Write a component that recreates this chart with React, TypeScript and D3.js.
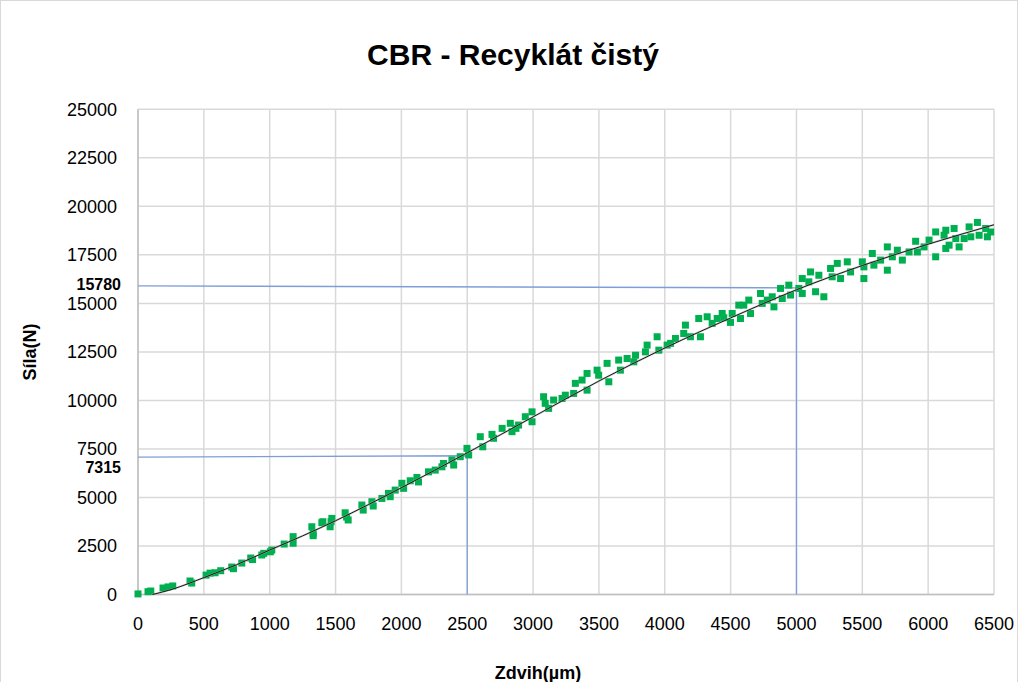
import React from "react";
import * as d3 from "d3";

const title = "CBR - Recyklát čistý";
const xLabel = "Zdvih(µm)";
const yLabel = "Síla(N)";
const xTicks = [0, 500, 1000, 1500, 2000, 2500, 3000, 3500, 4000, 4500, 5000, 5500, 6000, 6500];
const yTicks = [0, 2500, 5000, 7500, 10000, 12500, 15000, 17500, 20000, 22500, 25000];

// measured points [displacement µm, force N]
const measured: [number, number][] = [
  [0, 30], [76, 145], [97, 180], [190, 335], [228, 390], [264, 440], [395, 695], [408, 590],
  [517, 1000], [547, 1100], [585, 1120], [628, 1225], [712, 1415], [725, 1330], [788, 1620],
  [856, 1880], [870, 1800], [940, 2035], [955, 2120], [1005, 2200], [1016, 2290], [1110, 2600],
  [1178, 2980], [1178, 2640], [1320, 3490], [1330, 3150], [1330, 3030], [1396, 3700], [1404, 3750],
  [1459, 3490], [1466, 3750], [1472, 3920], [1573, 4210], [1584, 3990], [1596, 3840],
  [1700, 4610], [1710, 4350], [1776, 4780], [1786, 4560], [1852, 4950], [1902, 5210], [1915, 5040],
  [1953, 5380], [2004, 5730], [2017, 5470], [2067, 5860], [2118, 6030], [2130, 5800], [2206, 6320],
  [2257, 6410], [2308, 6580], [2320, 6750], [2384, 6930], [2397, 6670], [2447, 7100], [2498, 7530],
  [2511, 7190], [2599, 8130], [2618, 7610], [2688, 8250], [2700, 8050], [2765, 8560], [2827, 8820],
  [2840, 8390], [2870, 8560], [2890, 8730], [2941, 9160], [2992, 9410], [2992, 8900], [3080, 10190],
  [3092, 9850], [3118, 9590], [3156, 10020], [3220, 10100], [3245, 10270], [3308, 10360],
  [3321, 10880], [3372, 11050], [3410, 11390], [3410, 10530], [3486, 11560], [3498, 11300],
  [3562, 11910], [3575, 10960], [3650, 12080], [3663, 11560], [3714, 12160], [3765, 11990],
  [3778, 12330], [3853, 12500], [3866, 12850], [3942, 13280], [3955, 12590], [4018, 12850],
  [4044, 12940], [4081, 13190], [4144, 13450], [4157, 13880], [4195, 13280], [4258, 14220],
  [4271, 13280], [4322, 14310], [4360, 13970], [4398, 14220], [4436, 14480], [4448, 14260],
  [4499, 14020], [4512, 14480], [4562, 14910], [4575, 14220], [4600, 14910], [4638, 15170],
  [4651, 14480], [4727, 15510], [4740, 15000], [4778, 15170], [4816, 15340], [4829, 14820],
  [4879, 15770], [4892, 15250], [4942, 15940], [4955, 15430], [5018, 15770], [5044, 16280],
  [5044, 15510], [5094, 16110], [5107, 16620], [5145, 15600], [5170, 16450], [5208, 15340],
  [5259, 16800], [5271, 16370], [5310, 17060], [5335, 16280], [5386, 17140], [5411, 16620],
  [5500, 17140], [5512, 16280], [5512, 16880], [5576, 17570], [5588, 16970], [5639, 17230],
  [5690, 17910], [5690, 16710], [5728, 17400], [5766, 17740], [5804, 17230], [5855, 17650],
  [5905, 18200], [5918, 17650], [5969, 17910], [6007, 18260], [6057, 18680], [6057, 17400],
  [6121, 18510], [6134, 18770], [6134, 17830], [6159, 18000], [6197, 18860], [6210, 18340],
  [6235, 17910], [6273, 18340], [6311, 18940], [6324, 18430], [6374, 19170], [6387, 18510],
  [6437, 18860], [6450, 18430], [6475, 18680],
];

// trendline
const trend: [number, number][] = [
  [110, 0], [250, 250], [500, 870], [750, 1540], [1000, 2290], [1250, 3020], [1500, 3800],
  [2000, 5500], [2500, 7300], [3000, 9150], [3500, 11000], [4000, 12700], [4500, 14250],
  [5000, 15700], [5500, 16950], [6000, 18050], [6500, 19050],
];

// reference lines
const refA: [number, number][] = [[0, 15900], [5000, 15800], [5000, 0]];
const refB: [number, number][] = [[0, 7080], [2500, 7150], [2500, 0]];
const refLabels = [
  { value: "15780", y: 15900 },
  { value: "7315", y: 6470 },
];

export default function App() {
  const W = 1019, H = 682;
  const x = d3.scaleLinear().domain([0, 6500]).range([138, 994]);
  const y = d3.scaleLinear().domain([0, 25000]).range([594.5, 109.3]);
  const line = d3.line<[number, number]>().x(d => x(d[0])).y(d => y(d[1]));
  const trendLine = d3.line<[number, number]>().x(d => x(d[0])).y(d => y(d[1])).curve(d3.curveMonotoneX);
  const font = "'Liberation Sans', Arial, sans-serif";
  const ms = 7;
  return (
    <svg width={W} height={H} style={{ position: "absolute", left: 0, top: 0, background: "#fff" }} fontFamily={font}>
      <rect x={0.5} y={0.5} width={1017} height={720} fill="#fff" stroke="#d9d9d9" />
      <text x={513} y={65} textAnchor="middle" fontSize={30} fontWeight="bold" fill="#000">{title}</text>
      {xTicks.map(t => (
        <line key={"gx" + t} x1={x(t)} x2={x(t)} y1={y(25000)} y2={y(0)} stroke="#d9d9d9" strokeWidth={1.5} />
      ))}
      {yTicks.map(t => (
        <line key={"gy" + t} x1={x(0)} x2={x(6500)} y1={y(t)} y2={y(t)} stroke="#d9d9d9" strokeWidth={1.5} />
      ))}
      <line x1={x(0)} x2={x(0)} y1={y(25000)} y2={y(0)} stroke="#bfbfbf" strokeWidth={1.5} />
      <line x1={x(0)} x2={x(6500)} y1={y(0)} y2={y(0)} stroke="#bfbfbf" strokeWidth={1.5} />
      {xTicks.map(t => (
        <text key={"tx" + t} x={x(t)} y={630} textAnchor="middle" fontSize={18} fill="#000">{t}</text>
      ))}
      {yTicks.map(t => (
        <text key={"ty" + t} x={117} y={y(t) + 6.3} textAnchor="end" fontSize={18} fill="#000">{t}</text>
      ))}
      {refLabels.map(r => (
        <text key={r.value} x={121} y={y(r.y) + 4.5} textAnchor="end" fontSize={16} fontWeight="bold" fill="#000">{r.value}</text>
      ))}
      <path d={line(refA) || ""} fill="none" stroke="#7f9ed8" strokeWidth={1.3} />
      <path d={line(refB) || ""} fill="none" stroke="#7f9ed8" strokeWidth={1.3} />
      {measured.map((d, i) => (
        <rect key={i} x={x(d[0]) - ms / 2} y={y(d[1]) - ms / 2} width={ms} height={ms} fill="#00b050" />
      ))}
      <path d={trendLine(trend) || ""} fill="none" stroke="#a6a6a6" strokeWidth={2} opacity={0.6} />
      <path d={trendLine(trend) || ""} fill="none" stroke="#1a1a1a" strokeWidth={1} />
      <text x={538} y={679} textAnchor="middle" fontSize={18} fontWeight="bold" fill="#000">{xLabel}</text>
      <text transform={`translate(36,352) rotate(-90)`} textAnchor="middle" fontSize={18} fontWeight="bold" fill="#000">{yLabel}</text>
    </svg>
  );
}
